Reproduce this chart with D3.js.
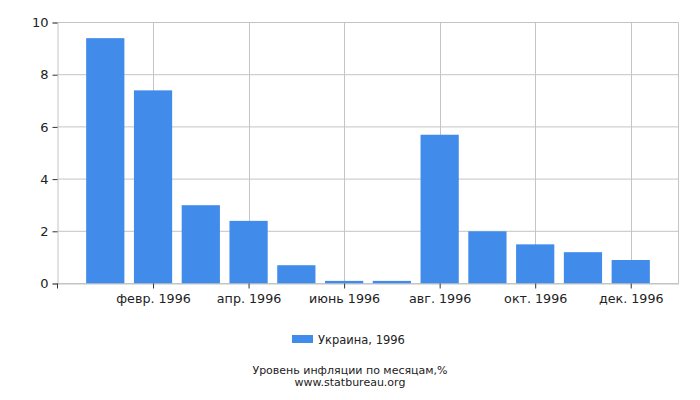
<!DOCTYPE html>
<html>
<head>
<meta charset="utf-8">
<script src="https://cdn.jsdelivr.net/npm/d3@7"></script>
<style>
	body { margin: 0; background: #fff; }
	text { font-family: "DejaVu Sans", sans-serif; fill: #222; }
</style>
</head>
<body>
<div id="chart"></div>
<script>
"use strict";

const months = ['янв. 1996', 'февр. 1996', 'март 1996', 'апр. 1996', 'май 1996', 'июнь 1996',
	'июль 1996', 'авг. 1996', 'сент. 1996', 'окт. 1996', 'нояб. 1996', 'дек. 1996'];
const inflation = [9.4, 7.4, 3.0, 2.4, 0.7, 0.1, 0.1, 5.7, 2.0, 1.5, 1.2, 0.9];
const shownMonths = ['февр. 1996', 'апр. 1996', 'июнь 1996', 'авг. 1996', 'окт. 1996', 'дек. 1996'];
const yTicks = [0, 2, 4, 6, 8, 10];
const seriesName = 'Украина, 1996';
const titleLines = ['Уровень инфляции по месяцам,%', 'www.statbureau.org'];

(() => {
	const width = 700, height = 400;
	const plotLeft = 57.5, plotRight = 678.5, plotTop = 22.5, plotBottom = 283.5;
	const barColor = '#418beb', gridColor = '#c4c4c4';

	let svg = d3.select('#chart').append('svg')
		.attr('width', width)
		.attr('height', height);

	let x = d3.scalePoint()
		.domain(months)
		.range([plotLeft, plotRight])
		.padding(1);

	let y = d3.scaleLinear()
		.domain([0, 10])
		.range([plotBottom, plotTop]);

	const barWidth = x.step() * 0.8;

	//  Grid
	svg.append('g').selectAll('line')
		.data(yTicks)
		.join('line')
			.attr('x1', plotLeft).attr('x2', plotRight)
			.attr('y1', d => y(d)).attr('y2', d => y(d))
			.attr('stroke', gridColor);

	svg.append('g').selectAll('line')
		.data(shownMonths)
		.join('line')
			.attr('x1', d => Math.round(x(d)) + 0.5).attr('x2', d => Math.round(x(d)) + 0.5)
			.attr('y1', plotTop).attr('y2', plotBottom)
			.attr('stroke', gridColor);

	svg.append('line')
		.attr('x1', plotRight).attr('x2', plotRight)
		.attr('y1', plotTop).attr('y2', plotBottom)
		.attr('stroke', gridColor);

	//  Bars
	svg.append('g').selectAll('rect')
		.data(inflation)
		.join('rect')
			.attr('x', (d, i) => x(months[i]) - barWidth / 2)
			.attr('width', barWidth)
			.attr('y', d => y(d))
			.attr('height', d => y(0) - y(d))
			.attr('fill', barColor);

	//  Axes
	let yAxis = svg.append('g')
		.attr('transform', `translate(${plotLeft},0)`)
		.call(d3.axisLeft(y).tickValues(yTicks).tickSize(5).tickPadding(4));
	yAxis.select('.domain').attr('stroke', gridColor);
	yAxis.selectAll('.tick line').attr('stroke', '#333');
	yAxis.selectAll('text').style('font-size', '13px').attr('fill', '#222');

	let xAxis = svg.append('g')
		.attr('transform', `translate(0,${plotBottom})`)
		.call(d3.axisBottom(x).tickValues(shownMonths).tickSize(5).tickPadding(5).tickSizeOuter(0));
	xAxis.select('.domain').attr('stroke', gridColor);
	xAxis.selectAll('.tick line').attr('stroke', '#333');
	xAxis.selectAll('text').style('font-size', '12.7px').attr('fill', '#222');

	svg.append('line')
		.attr('x1', plotLeft).attr('x2', plotLeft)
		.attr('y1', plotBottom).attr('y2', plotBottom + 5)
		.attr('stroke', '#333');

	//  Legend
	svg.append('rect')
		.attr('x', 292).attr('y', 335)
		.attr('width', 21).attr('height', 8)
		.attr('fill', barColor);
	svg.append('text')
		.attr('x', 318).attr('y', 344)
		.style('font-size', '11.5px')
		.text(seriesName);

	//  Title
	svg.append('g').selectAll('text')
		.data(titleLines)
		.join('text')
			.attr('x', 350)
			.attr('y', (d, i) => 374 + i * 12)
			.attr('text-anchor', 'middle')
			.style('font-size', '11px')
			.text(d => d);
})();
</script>
</body>
</html>
